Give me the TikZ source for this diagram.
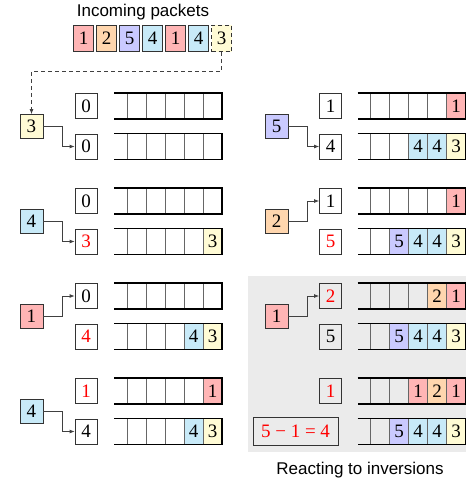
\documentclass[tikz,border=0pt]{standalone}
\usepackage{fontspec}
\setmainfont{Liberation Serif}
\setsansfont{Liberation Sans}
\usetikzlibrary{arrows.meta}
\definecolor{pktred}{HTML}{FFB5B5}
\definecolor{pktorange}{HTML}{FFD6AE}
\definecolor{pktpurple}{HTML}{CACAFF}
\definecolor{pktblue}{HTML}{C8EAF8}
\definecolor{pktyellow}{HTML}{FFFBD5}
\definecolor{bggray}{HTML}{EBEBEB}
\begin{document}
\begin{tikzpicture}[x=1pt, y=-1pt,
        every node/.style={font=\fontsize{19}{19}\selectfont},
        box/.style={draw=black!80, line width=0.8pt, inner sep=0pt, minimum width=22pt, minimum height=25pt},
        pkt/.style={box, minimum width=20pt, minimum height=26.7pt},
        inbox/.style={box, minimum width=23pt, minimum height=24pt},
        hot/.style={text=red},
        wire/.style={draw=black!75, line width=0.8pt, -{Latex[length=5pt,width=4pt]}},
        rim/.style={line width=1.6pt},
        sep/.style={draw=black!60, line width=0.8pt},
        caption/.style={font=\sffamily\fontsize{17}{17}\selectfont}]
    \useasboundingbox (0,0) rectangle (466,480);
    \fill[bggray] (248,276) rectangle (467,452);
    % incoming packets
    \node[caption, anchor=base] (title) at (143,16.7) {Incoming packets};
    \foreach \d/\c [count=\i] in {1/pktred,2/pktorange,5/pktpurple,4/pktblue,1/pktred,4/pktblue}
        \node[pkt, fill=\c] (p\i) at (60.5+23*\i,38.3) {\d};
    \node[pkt, fill=pktyellow, dash pattern=on 4pt off 3pt] (p7) at (221.5,38.3) {3};
    % filled queue cells
    \foreach \x/\y/\k/\d/\c [count=\i] in {114/241.5/1/3/pktyellow,
            114/336.5/1/3/pktyellow, 114/336.5/2/4/pktblue,
            114/391/1/1/pktred,
            114/431.5/1/3/pktyellow, 114/431.5/2/4/pktblue,
            357.5/106/1/1/pktred,
            357.5/146.5/1/3/pktyellow, 357.5/146.5/2/4/pktblue, 357.5/146.5/3/4/pktblue,
            357.5/201/1/1/pktred,
            357.5/241.5/1/3/pktyellow, 357.5/241.5/2/4/pktblue, 357.5/241.5/3/4/pktblue, 357.5/241.5/4/5/pktpurple,
            357.5/296/1/1/pktred, 357.5/296/2/2/pktorange,
            357.5/336.5/1/3/pktyellow, 357.5/336.5/2/4/pktblue, 357.5/336.5/3/4/pktblue, 357.5/336.5/4/5/pktpurple,
            357.5/391/1/1/pktred, 357.5/391/2/2/pktorange, 357.5/391/3/1/pktred,
            357.5/431.5/1/3/pktyellow, 357.5/431.5/2/4/pktblue, 357.5/431.5/3/4/pktblue, 357.5/431.5/4/5/pktpurple} {
        \fill[\c] (\x+108-19*\k,\y-13) rectangle ++(19,26);
        \node (cell\i) at (\x+117.5-19*\k,\y) {\d};
    }
    % queues
    \foreach \x in {114,357.5}
        \foreach \y in {106,146.5,201,241.5,296,336.5,391,431.5} {
            \foreach \s in {0,...,4}
                \draw[sep] (\x+13+19*\s,\y-13) -- ++(0,26);
            \draw[rim] (\x,\y-13) -- ++(108,0) -- ++(0,26) -- ++(-108,0);
        }
    % counters
    \foreach \n/\x/\y/\t/\s in {la1/86/106/0/box, lb1/86/146.5/0/box,
            la2/86/201/0/box, lb2/86/241.5/3/hot,
            la3/86/296/0/box, lb3/86/336.5/4/hot,
            la4/86/391/1/hot, lb4/86/431.5/4/box,
            ra1/330.5/106/1/box, rb1/330.5/146.5/4/box,
            ra2/330.5/201/1/box, rb2/330.5/241.5/5/hot,
            ra3/330.5/296/2/hot, rb3/330.5/336.5/5/box,
            ra4/330.5/391/1/hot}
        \node[box, \s] (\n) at (\x,\y) {\t};
    \node[box, hot, minimum width=85pt, minimum height=28pt] (rb4) at (295.5,431) {5 − 1 = 4};
    % packets being routed
    \node[inbox, fill=pktyellow] (in1) at (31.5,126.5) {3};
    \node[inbox, fill=pktblue] (in2) at (31.5,221.5) {4};
    \node[inbox, fill=pktred] (in3) at (31.5,316.5) {1};
    \node[inbox, fill=pktblue] (in4) at (31.5,411.5) {4};
    \node[inbox, fill=pktpurple] (in5) at (276.5,126.5) {5};
    \node[inbox, fill=pktorange] (in6) at (276.5,221.5) {2};
    \node[inbox, fill=pktred] (in7) at (276.5,316.5) {1};
    \draw[wire, dash pattern=on 4pt off 3pt] (p7.south) -- ++(0,19) -| (in1.north);
    \draw[wire] (in1.east) -- ++(19,0) |- (lb1.west);
    \draw[wire] (in2.east) -- ++(19,0) |- (lb2.west);
    \draw[wire] (in3.east) -- ++(19,0) |- (la3.west);
    \draw[wire] (in4.east) -- ++(19,0) |- (lb4.west);
    \draw[wire] (in5.east) -- ++(19,0) |- (rb1.west);
    \draw[wire] (in6.east) -- ++(19,0) |- (ra2.west);
    \draw[wire] (in7.east) -- ++(19,0) |- (ra3.west);
    \node[caption, anchor=base] (foot) at (360,474) {Reacting to inversions};
\end{tikzpicture}
\end{document}
